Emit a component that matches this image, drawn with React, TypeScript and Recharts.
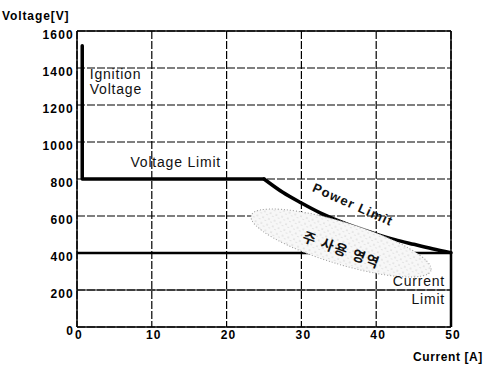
import React from 'react';
import { LineChart, Line, XAxis, YAxis, CartesianGrid, ReferenceLine, ReferenceDot } from 'recharts';

const xTicks = [0, 10, 20, 30, 40, 50];
const yTicks = [0, 200, 400, 600, 800, 1000, 1200, 1400, 1600];

// Ignition spike and voltage limit
const envCurrent = [0.7, 0.7, 25];
const envVoltage = [1520, 800, 800];

// Power limit curve
const powCurrent = [25, 27.5, 30, 32.5, 35, 37.5, 40, 42.5, 45, 47.5, 50];
const powVoltage = [800, 728, 670, 617, 573, 535, 502, 472, 447, 423, 402];

// Current limit line at 400 V and down the right edge
const limCurrent = [0, 50, 50];
const limVoltage = [400, 400, 0];

const envData = envCurrent.map((c, i) => ({ c, v: envVoltage[i] }));
const powData = powCurrent.map((c, i) => ({ c, v: powVoltage[i] }));
const limData = limCurrent.map((c, i) => ({ c, v: limVoltage[i] }));

// Main operating region (centre)
const regionCenter = { c: 35.3, v: 454 };

type Ann = { text: string; c: number; v: number; anchor: 'start' | 'middle' | 'end'; rot: number; size: number; family: string; ls: number; weight: string };
const annotations: Ann[] = [
  { text: 'Ignition', c: 1.7, v: 1368, anchor: 'start', rot: 0, size: 14, family: 'Liberation Sans, Arial, sans-serif', ls: 0.8, weight: 'normal' },
  { text: 'Voltage', c: 1.7, v: 1286, anchor: 'start', rot: 0, size: 14, family: 'Liberation Sans, Arial, sans-serif', ls: 0.8, weight: 'normal' },
  { text: 'Voltage Limit', c: 13.2, v: 890, anchor: 'middle', rot: 0, size: 14, family: 'Liberation Sans, Arial, sans-serif', ls: 0.8, weight: 'normal' },
  { text: 'Power Limit', c: 36.9, v: 662, anchor: 'middle', rot: 24, size: 13, family: 'Liberation Sans, Arial, sans-serif', ls: 1.2, weight: 'bold' },
  { text: '주 사용 영역', c: 35.4, v: 421, anchor: 'middle', rot: 20, size: 14, family: 'Noto Sans CJK KR, sans-serif', ls: 1.5, weight: 'bold' },
  { text: 'Current', c: 49.2, v: 249, anchor: 'end', rot: 0, size: 14, family: 'Liberation Sans, Arial, sans-serif', ls: 0.8, weight: 'normal' },
  { text: 'Limit', c: 49.2, v: 151, anchor: 'end', rot: 0, size: 14, family: 'Liberation Sans, Arial, sans-serif', ls: 0.8, weight: 'normal' },
];

const tickFont = { fontFamily: 'Liberation Sans, Arial, sans-serif', fontSize: 12, fontWeight: 'bold' as const, letterSpacing: 1.2, fill: '#000' };

const XTick = (props: any) => {
  const { x, y, payload } = props;
  return (
    <text x={x + 2} y={y} dy={12} textAnchor="middle" style={tickFont}>
      {payload.value}
    </text>
  );
};

const YTick = (props: any) => {
  const { x, y, payload } = props;
  return (
    <text x={x - 3} y={y} dy={8} textAnchor="end" style={tickFont}>
      {payload.value}
    </text>
  );
};

const EllipseShape = (props: any) => {
  const { cx, cy } = props;
  if (cx == null || cy == null) return null;
  return (
    <g>
      <defs>
        <pattern id="stipple" width="6" height="6" patternUnits="userSpaceOnUse">
          <rect width="6" height="6" fill="#f7f7f7" />
          <circle cx="1" cy="1" r="0.6" fill="#b0b0b0" />
          <circle cx="4" cy="3.5" r="0.5" fill="#c4c4c4" />
        </pattern>
      </defs>
      <ellipse
        cx={cx}
        cy={cy}
        rx={94}
        ry={21}
        transform={`rotate(17 ${cx} ${cy})`}
        fill="url(#stipple)"
        stroke="#999"
        strokeDasharray="1 2"
        strokeWidth={1}
      />
    </g>
  );
};

const makeTextShape = (a: Ann) => (props: any) => {
  const { cx, cy } = props;
  if (cx == null || cy == null) return null;
  return (
    <text
      x={cx}
      y={cy}
      textAnchor={a.anchor}
      dominantBaseline="central"
      transform={a.rot ? `rotate(${a.rot} ${cx} ${cy})` : undefined}
      style={{ fontFamily: a.family, fontSize: a.size, fontWeight: a.weight as any, letterSpacing: a.ls, fill: '#111' }}
    >
      {a.text}
    </text>
  );
};

export default function App() {
  return (
    <div style={{ position: 'absolute', left: 0, top: 0, width: 491, height: 367, background: '#fff' }}>
      <LineChart width={491} height={367} margin={{ top: 31, right: 40, bottom: 10, left: 47 }}>
        <CartesianGrid stroke="#000" strokeDasharray="8 2" strokeWidth={1.2} />
        <XAxis
          type="number"
          dataKey="c"
          domain={[0, 50]}
          ticks={xTicks}
          height={30}
          tickSize={0}
          tickMargin={0}
          tickLine={false}
          axisLine={{ stroke: '#000', strokeWidth: 1.5 }}
          tick={<XTick />}
          interval={0}
        />
        <YAxis
          type="number"
          dataKey="v"
          domain={[0, 1600]}
          ticks={yTicks}
          width={30}
          tickSize={0}
          tickMargin={0}
          tickLine={false}
          axisLine={{ stroke: '#000', strokeWidth: 1.5 }}
          tick={<YTick />}
          interval={0}
        />
        <ReferenceLine y={1600} stroke="#000" strokeWidth={1.5} />
        <ReferenceLine x={50} stroke="#000" strokeWidth={1.5} />
        <ReferenceLine y={200} stroke="#000" strokeWidth={1.2} />
        <ReferenceDot x={regionCenter.c} y={regionCenter.v} r={0} shape={<EllipseShape />} />
        <Line data={limData} dataKey="v" stroke="#000" strokeWidth={2.5} dot={false} isAnimationActive={false} />
        <Line data={envData} dataKey="v" stroke="#000" strokeWidth={3.5} dot={false} strokeLinejoin="round" strokeLinecap="round" isAnimationActive={false} />
        <Line data={powData} dataKey="v" type="monotone" stroke="#000" strokeWidth={3.5} dot={false} strokeLinejoin="round" strokeLinecap="round" isAnimationActive={false} />
        {annotations.map((a, i) => (
          <ReferenceDot key={i} x={a.c} y={a.v} r={0} shape={makeTextShape(a)} />
        ))}
      </LineChart>
      <div style={{ position: 'absolute', left: 2, top: 9, fontFamily: 'Liberation Sans, Arial, sans-serif', fontSize: 12, fontWeight: 'bold', letterSpacing: 0.9, color: '#000', lineHeight: '14px' }}>
        Voltage[V]
      </div>
      <div style={{ position: 'absolute', left: 413, top: 350, fontFamily: 'Liberation Sans, Arial, sans-serif', fontSize: 12, fontWeight: 'bold', letterSpacing: 0.6, color: '#000', lineHeight: '14px' }}>
        Current [A]
      </div>
    </div>
  );
}
